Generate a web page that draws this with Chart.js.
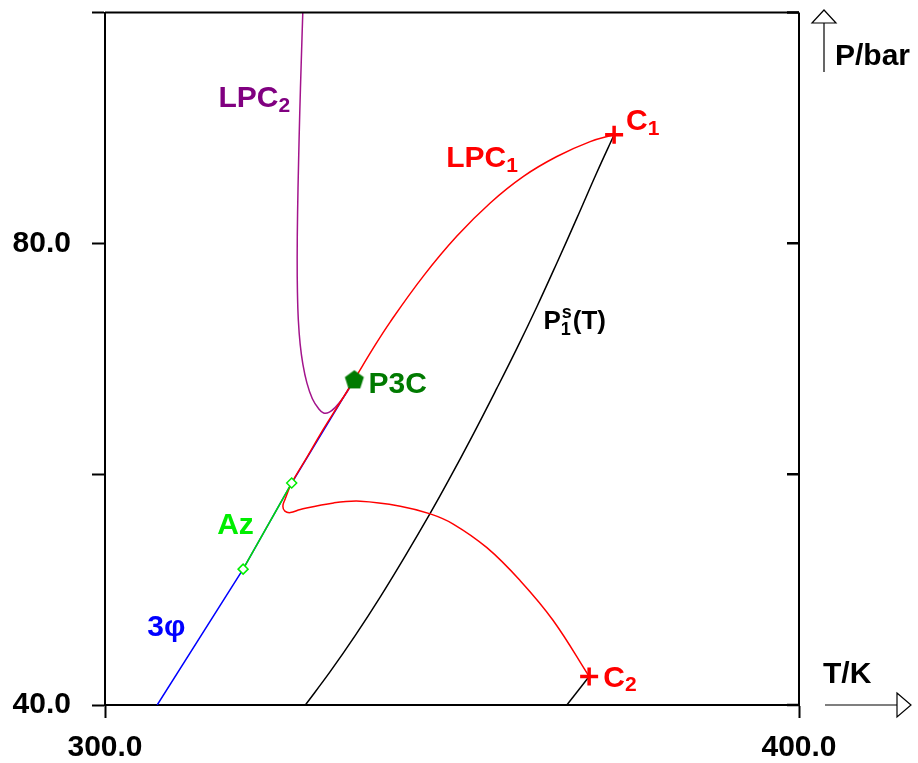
<!DOCTYPE html>
<html>
<head>
<meta charset="utf-8">
<script src="https://cdn.jsdelivr.net/npm/chart.js@4.4.1/dist/chart.umd.min.js"></script>
<style>
  html, body { margin: 0; padding: 0; background: #fff; }
  #wrap { width: 918px; height: 763px; }
</style>
</head>
<body>
<div id="wrap"><canvas id="canvas" width="918" height="763"></canvas></div>
<script>
// axis ticks
const xTicks = [300, 400];
const yTicks = [40, 60, 80, 100];
const yLabelled = [40, 80];

// 3-phase line
const threePhT = [307.52, 319.90, 326.90, 335.93];
const threePhP = [40.00, 51.77, 59.23, 68.21];

// azeotrope line
const azT = [319.90, 326.90];
const azP = [51.77, 59.23];

// LPC1 (from C2, hook at the 3-phase line, up to C1)
const lpc1T = [369.76, 364.58, 359.83, 355.03, 350.18, 346.87, 342.55, 336.79, 332.95, 328.15,
               326.71, 325.92, 325.63, 325.92, 326.90, 329.09, 331.25, 333.62, 335.93, 338.52,
               341.11, 345.90, 350.71, 355.51, 360.30, 365.11, 369.91, 373.36];
const lpc1P = [42.47, 47.32, 50.77, 53.63, 55.68, 56.56, 57.23, 57.66, 57.51, 56.94,
               56.67, 56.80, 57.23, 57.79, 59.23, 61.45, 63.69, 65.97, 68.21, 70.79,
               73.20, 77.18, 80.63, 83.50, 85.80, 87.52, 88.81, 89.41];

// LPC2
const lpc2T = [328.50, 328.27, 328.06, 327.89, 327.75, 327.69, 327.73, 327.86, 328.12, 328.51,
               329.09, 329.88, 330.74, 331.50, 332.33, 333.19, 334.05, 334.99, 335.93];
const lpc2P = [100.0, 95.56, 91.25, 86.94, 82.64, 78.76, 75.75, 73.33, 71.27, 69.54,
               67.91, 66.53, 65.71, 65.30, 65.37, 65.80, 66.40, 67.22, 68.21];

// vapour pressure of component 1
const ps1T = [328.87, 332.47, 336.07, 339.67, 343.27, 346.87, 349.46, 352.92, 356.47, 359.35,
              362.23, 365.11, 367.99, 370.87, 373.36];
const ps1P = [40.00, 42.91, 46.03, 49.37, 52.92, 56.62, 59.41, 63.30, 67.45, 70.90,
              74.51, 78.30, 82.18, 86.14, 89.41];

// vapour pressure of component 2 (visible end)
const ps2T = [366.55, 369.76];
const ps2P = [40.00, 42.47];

// special points
const critT = [373.36, 369.76];
const critP = [89.41, 42.47];
const p3cT = [335.93];
const p3cP = [68.21];

// curve labels: left/baseline position in data units
const labelParts = [
  [['LPC'], ['2', 'sub']],
  [['LPC'], ['1', 'sub']],
  [['C'], ['1', 'sub']],
  [['C'], ['2', 'sub']],
  [['P3C']],
  [['Az']],
  [['3φ']],
  [['P'], ['s|1', 'subsup'], ['(T)']]
];
const labelT = [316.34, 349.17, 375.09, 371.79, 337.98, 316.16, 306.08, 363.18];
const labelP = [91.77, 86.60, 89.78, 41.58, 66.99, 54.79, 45.94, 72.58];
const labelColor = ['#800080', '#ff0000', '#ff0000', '#ff0000', '#007a00', '#00ee00', '#0000ff', '#000000'];
const labelSize = [30, 30, 30, 30, 30, 30, 30, 26];

const FONT = '"Liberation Sans", Arial, Helvetica, sans-serif';

function pts(t, p) {
  return t.map((v, i) => ({ x: v, y: p[i] }));
}

// pentagon marker for P3C
const pent = document.createElement('canvas');
pent.width = 22; pent.height = 22;
(function () {
  const g = pent.getContext('2d');
  g.fillStyle = '#007a00';
  g.beginPath();
  for (let i = 0; i < 5; i++) {
    const a = -Math.PI / 2 + i * 2 * Math.PI / 5;
    const px = 11 + 10 * Math.cos(a), py = 11.8 + 10 * Math.sin(a);
    if (i === 0) g.moveTo(px, py); else g.lineTo(px, py);
  }
  g.closePath();
  g.fill();
})();

function drawRich(ctx, x, y, parts, size, color) {
  ctx.fillStyle = color;
  ctx.textAlign = 'left';
  ctx.textBaseline = 'alphabetic';
  const small = Math.round(size * 0.7);
  for (const [txt, kind] of parts) {
    if (kind === 'sub') {
      ctx.font = 'bold ' + small + 'px ' + FONT;
      ctx.fillText(txt, x, y + size * 0.15);
      x += ctx.measureText(txt).width;
    } else if (kind === 'subsup') {
      const [sup, sub] = txt.split('|');
      ctx.font = 'bold ' + small + 'px ' + FONT;
      ctx.fillText(sup, x + 1, y - size * 0.42);
      ctx.fillText(sub, x, y + size * 0.25);
      x += Math.max(ctx.measureText(sup).width, ctx.measureText(sub).width) + 2;
    } else {
      ctx.font = 'bold ' + size + 'px ' + FONT;
      ctx.fillText(txt, x, y);
      x += ctx.measureText(txt).width;
    }
  }
}

const framePlugin = {
  id: 'frame',
  afterDraw(chart) {
    const ctx = chart.ctx;
    const a = chart.chartArea;
    const ys = chart.scales.y;
    ctx.save();
    ctx.strokeStyle = '#000';
    ctx.lineWidth = 2;
    ctx.beginPath();
    ctx.moveTo(a.left, a.top);
    ctx.lineTo(a.right, a.top);
    ctx.moveTo(a.right, a.top);
    ctx.lineTo(a.right, a.bottom);
    ctx.stroke();
    // inward ticks on the right side
    ctx.lineWidth = 2.5;
    ctx.beginPath();
    for (const v of yTicks) {
      const py = ys.getPixelForValue(v);
      ctx.moveTo(a.right - 12, py);
      ctx.lineTo(a.right, py);
    }
    ctx.stroke();

    // axis arrows
    ctx.lineWidth = 1.2;
    ctx.fillStyle = '#fff';
    const ay = a.bottom;
    ctx.beginPath();
    ctx.moveTo(825, ay);
    ctx.lineTo(897, ay);
    ctx.stroke();
    ctx.beginPath();
    ctx.moveTo(897, ay - 12);
    ctx.lineTo(911, ay);
    ctx.lineTo(897, ay + 12);
    ctx.closePath();
    ctx.fill();
    ctx.stroke();

    ctx.beginPath();
    ctx.moveTo(824, 72);
    ctx.lineTo(824, 23);
    ctx.stroke();
    ctx.beginPath();
    ctx.moveTo(812, 23);
    ctx.lineTo(824, 10);
    ctx.lineTo(836, 23);
    ctx.closePath();
    ctx.fill();
    ctx.stroke();

    drawRich(ctx, 823, 683, [['T/K']], 30, '#000');
    drawRich(ctx, 835, 65, [['P/bar']], 30, '#000');

    // curve labels
    const xs = chart.scales.x;
    labelParts.forEach((parts, i) => {
      drawRich(ctx, xs.getPixelForValue(labelT[i]), ys.getPixelForValue(labelP[i]),
               parts, labelSize[i], labelColor[i]);
    });
    ctx.restore();
  }
};

new Chart(document.getElementById('canvas').getContext('2d'), {
  type: 'scatter',
  data: {
    datasets: [
      {
        label: 'P3C', data: pts(p3cT, p3cP), pointStyle: pent, pointRadius: 11, showLine: false
      },
      {
        label: 'C', data: pts(critT, critP), pointStyle: 'cross', pointRadius: 9,
        borderColor: '#ff0000', pointBorderWidth: 3.5, showLine: false
      },
      {
        label: 'Az', data: pts(azT, azP), showLine: true, borderColor: '#00e000', borderWidth: 1.5,
        pointStyle: 'rectRot', pointRadius: 5, pointBackgroundColor: '#fff',
        pointBorderColor: '#00ee00', pointBorderWidth: 1.5, tension: 0
      },
      {
        label: 'LPC1', data: pts(lpc1T, lpc1P), showLine: true, borderColor: '#ff0000',
        borderWidth: 1.5, pointRadius: 0, tension: 0.4
      },
      {
        label: 'LPC2', data: pts(lpc2T, lpc2P), showLine: true, borderColor: '#a3148c',
        borderWidth: 1.5, pointRadius: 0, tension: 0.4
      },
      {
        label: '3ph', data: pts(threePhT, threePhP), showLine: true, borderColor: '#0000ff',
        borderWidth: 1.5, pointRadius: 0, tension: 0
      },
      {
        label: 'Ps1', data: pts(ps1T, ps1P), showLine: true, borderColor: '#000',
        borderWidth: 1.5, pointRadius: 0, tension: 0.4
      },
      {
        label: 'Ps2', data: pts(ps2T, ps2P), showLine: true, borderColor: '#000',
        borderWidth: 1.5, pointRadius: 0, tension: 0
      }
    ]
  },
  options: {
    responsive: false,
    animation: false,
    devicePixelRatio: 1,
    layout: { padding: { left: 0, top: 10, right: 119, bottom: 0 } },
    plugins: { legend: { display: false }, tooltip: { enabled: false } },
    scales: {
      x: {
        type: 'linear', min: 300, max: 400, position: 'bottom',
        border: { color: '#000', width: 2 },
        grid: { drawOnChartArea: false, drawTicks: true, tickLength: 13, tickColor: '#000', tickWidth: 2 },
        ticks: {
          color: '#000', padding: 12, maxRotation: 0,
          font: { family: FONT, size: 30, weight: 'bold' },
          callback: (v) => v.toFixed(1)
        },
        afterBuildTicks: (s) => { s.ticks = xTicks.map((v) => ({ value: v })); },
        afterFit: (s) => { s.height = 58; s.paddingLeft = 0; s.paddingRight = 0; }
      },
      y: {
        type: 'linear', min: 40, max: 100, position: 'left',
        border: { color: '#000', width: 2 },
        grid: { drawOnChartArea: false, drawTicks: true, tickLength: 13, tickColor: '#000', tickWidth: 2 },
        ticks: {
          color: '#000', padding: 21,
          font: { family: FONT, size: 30, weight: 'bold' },
          callback: (v) => (yLabelled.includes(v) ? v.toFixed(1) : '')
        },
        afterBuildTicks: (s) => { s.ticks = yTicks.map((v) => ({ value: v })); },
        afterFit: (s) => { s.width = 105; s.paddingTop = 0; s.paddingBottom = 0; }
      }
    }
  },
  plugins: [framePlugin]
});
</script>
</body>
</html>
